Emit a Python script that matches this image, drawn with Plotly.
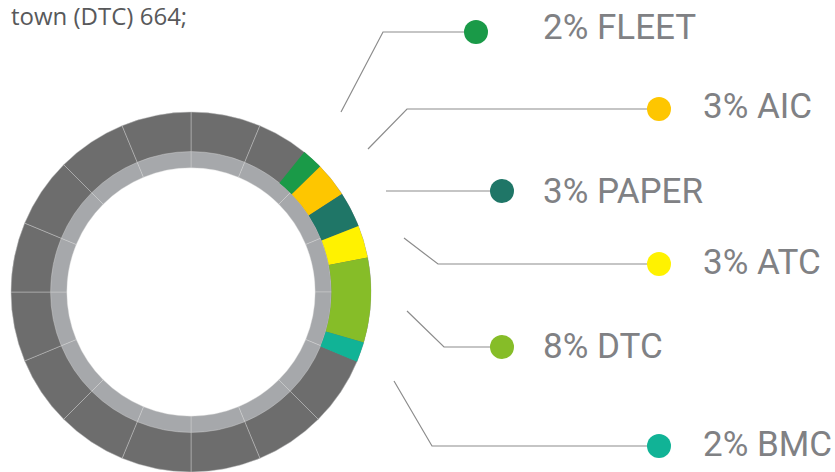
import plotly.graph_objects as go

# ---- data ----
categories = ["FLEET", "AIC", "PAPER", "ATC", "DTC", "BMC"]
shares = [1.9, 3.1, 3.2, 2.9, 7.6, 1.8]          # share of the ring
label_pct = ["2%", "3%", "3%", "3%", "8%", "2%"]  # printed labels
other_share = 79.5
ring_segments = [1] * 16
top_text = "town (DTC) 664;"

# ---- styles ----
colors = ["#1a9a48", "#fec600", "#1f7667", "#fff200", "#86bd28", "#11b396"]
DARK = "#6d6d6d"
LIGHT = "#a6a8ab"
SEP = "rgba(215,215,215,0.5)"
TXT = "#808184"
W, H = 835, 472

# ring geometry (pixels)
cx, cy, R = 191, 292, 180
dom = dict(x=[(cx - R) / W, (cx + R) / W], y=[(H - cy - R) / H, (H - cy + R) / H])

# label layout (pixels): leader polyline points, dot centre, text left x, text centre y
label_layout = [
    dict(pts=[(341, 112), (383, 32)], dot=(476, 32), tx=541, ty=27),
    dict(pts=[(368, 149), (407, 109)], dot=(659, 109), tx=701, ty=106),
    dict(pts=[(386, 191)], dot=(502, 191), tx=541, ty=191),
    dict(pts=[(404, 238), (438, 264)], dot=(659, 264), tx=701, ty=262),
    dict(pts=[(407, 311), (444, 347)], dot=(502, 347), tx=541, ty=346),
    dict(pts=[(394, 381), (432, 446)], dot=(659, 446), tx=701, ty=444),
]

fig = go.Figure()

# inner light ring (with separators)
fig.add_trace(go.Pie(
    values=ring_segments, labels=[f"l{i}" for i in range(16)],
    hole=0.69, sort=False, direction="clockwise", rotation=0,
    marker=dict(colors=[LIGHT] * 16, line=dict(color=SEP, width=0.8)),
    textinfo="none", hoverinfo="skip", domain=dom, showlegend=False))

# outer dark ring (with separators)
fig.add_trace(go.Pie(
    values=ring_segments, labels=[f"d{i}" for i in range(16)],
    hole=0.78, sort=False, direction="clockwise", rotation=0,
    marker=dict(colors=[DARK] * 16, line=dict(color=SEP, width=0.8)),
    textinfo="none", hoverinfo="skip", domain=dom, showlegend=False))

# coloured categories on the outer ring
fig.add_trace(go.Pie(
    values=shares + [other_share], labels=categories + ["OTHER"],
    hole=0.78, sort=False, direction="clockwise", rotation=39,
    marker=dict(colors=colors + ["rgba(0,0,0,0)"], line=dict(width=0)),
    textinfo="none", hoverinfo="label+value", domain=dom, showlegend=False))

# leader lines and dots
for i, lay in enumerate(label_layout):
    xs = [p[0] for p in lay["pts"]] + [lay["dot"][0]]
    ys = [p[1] for p in lay["pts"]] + [lay["dot"][1]]
    fig.add_trace(go.Scatter(x=xs, y=ys, mode="lines",
                             line=dict(color="#8c8c8c", width=1.2),
                             hoverinfo="skip", showlegend=False))
    fig.add_trace(go.Scatter(x=[lay["dot"][0]], y=[lay["dot"][1]], mode="markers",
                             marker=dict(color=colors[i], size=24, line=dict(width=0)),
                             hoverinfo="skip", showlegend=False))
    fig.add_annotation(x=lay["tx"], y=lay["ty"], xref="x", yref="y",
                       text=f"{label_pct[i]} {categories[i]}", showarrow=False,
                       xanchor="left", yanchor="middle",
                       font=dict(family="Roboto", size=35, color=TXT))

fig.add_annotation(x=189, y=15, xref="x", yref="y", text=top_text, showarrow=False,
                   xanchor="right", yanchor="middle",
                   font=dict(family="Open Sans", size=24, color="#58595b"))

fig.update_layout(
    width=W, height=H, margin=dict(l=0, r=0, t=0, b=0),
    paper_bgcolor="white", plot_bgcolor="white",
    xaxis=dict(range=[0, W], visible=False, fixedrange=True),
    yaxis=dict(range=[H, 0], visible=False, fixedrange=True),
)

fig.write_html("out.html")
